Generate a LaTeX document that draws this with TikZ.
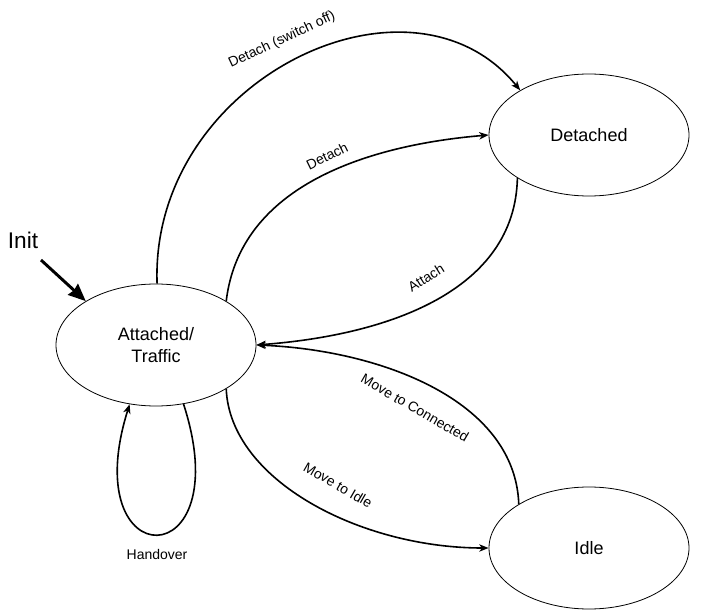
\documentclass[tikz,border=0pt]{standalone}
\usepackage{fontspec}
\setmainfont{Liberation Sans}
\usetikzlibrary{arrows.meta,shapes.geometric}
\begin{document}
\begin{tikzpicture}[x=0.75pt, y=-0.75pt,
    state/.style={draw, ellipse, line width=0.6pt, minimum width=150pt, minimum height=91.5pt,
      inner sep=0pt, align=center, font=\fontsize{13.5}{16.5}\selectfont},
    edge/.style={line width=1.2pt, -{Stealth[length=7pt, width=5.5pt, inset=2pt]}},
    lbl/.style={font=\fontsize{10.5}{12}\selectfont, inner sep=1pt}]
  \useasboundingbox (0, 0) rectangle (706, 616);
  % node
  \node[state] (att) at (156, 345) {Attached/\\Traffic};
  \node[state] (det) at (589, 135) {Detached};
  \node[state] (idle) at (589, 548) {Idle};
  \node[font=\fontsize{17}{20}\selectfont, inner sep=0pt] (init) at (23, 240) {Init};
  \coordinate (initstart) at (41, 260);
  % labels
  \node[lbl, rotate=25] (lswitch) at (282, 40) {Detach (switch off)};
  \node[lbl, rotate=26] (ldetach) at (327, 156) {Detach};
  \node[lbl, rotate=32] (lattach) at (426, 278) {Attach};
  \node[lbl, rotate=-30] (lconn) at (415, 408) {Move to Connected};
  \node[lbl, rotate=-30] (lidle) at (338, 485) {Move to Idle};
  \node[lbl] (lhand) at (157, 554) {Handover};
  % lines
  \draw[line width=2.2pt, -{Stealth[length=13pt, width=11pt, inset=1pt]}] (initstart) -- (att.148);
  \draw[edge] (att.89) .. controls (150, 80) and (410, -45) .. (det.147);
  \draw[edge] (att.32) .. controls (240, 185) and (369, 145) .. (det.180);
  \draw[edge] (det.211) .. controls (515, 290) and (390, 335) .. (att.0);
  \draw[edge] (idle.148) .. controls (515, 400) and (380, 350) .. (att.0);
  \draw[edge] (att.-32) .. controls (230, 480) and (360, 548) .. (idle.180);
  \draw[edge] (att.-65) .. controls (240, 578) and (75, 578) .. (att.-114);
\end{tikzpicture}
\end{document}
